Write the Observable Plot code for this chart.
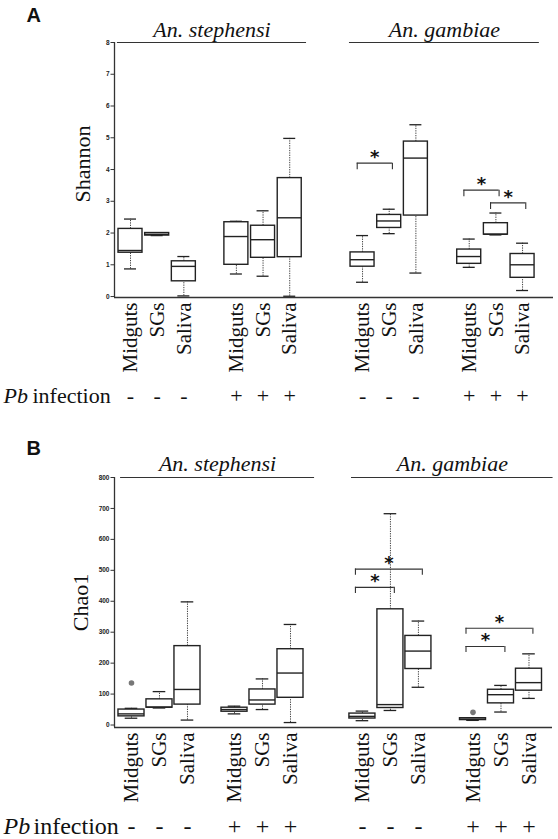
<!DOCTYPE html>
<html><head><meta charset="utf-8">
<script src="https://cdn.jsdelivr.net/npm/d3@7"></script>
<script src="https://cdn.jsdelivr.net/npm/@observablehq/plot@0.6"></script>
<style>
body{margin:0;background:#fff;}
#chart{width:558px;height:839px;position:relative;background:#fff;}
#chart svg{display:block;overflow:visible;}
</style></head><body><div id="chart"></div>
<script>
// ---- categories ----
const species = ["An. stephensi", "An. gambiae"];
const tissues = ["Midguts", "SGs", "Saliva"];
const infectionSigns = ["-", "+"];
const infectionLabel = ["Pb", "infection"];
const panelLetters = ["A", "B"];
const yLabels = ["Shannon", "Chao1"];

// box order: stephensi(-), stephensi(+), gambiae(-), gambiae(+); each Midguts, SGs, Saliva
// ---- Panel A: Shannon ----
const shannonMin = [0.87, 1.92, 0.02, 0.71, 0.64, 0.01, 0.45, 1.98, 0.74, 0.92, 1.94, 0.19];
const shannonQ1  = [1.38, 1.92, 0.48, 1.00, 1.22, 1.24, 0.94, 2.16, 2.55, 1.03, 1.95, 0.59];
const shannonMed = [1.45, 1.96, 0.95, 1.89, 1.79, 2.48, 1.16, 2.38, 4.36, 1.26, 1.96, 1.00];
const shannonQ3  = [2.13, 2.00, 1.11, 2.34, 2.23, 3.73, 1.39, 2.57, 4.88, 1.48, 2.31, 1.34];
const shannonMax = [2.44, 2.00, 1.26, 2.37, 2.70, 4.98, 1.92, 2.75, 5.41, 1.81, 2.63, 1.68];
const shannonTicks = [0, 1, 2, 3, 4, 5, 6, 7, 8];
const shannonSigFrom = [6, 9, 10];
const shannonSigTo   = [7, 10, 11];
const shannonSigY    = [4.2, 3.35, 2.95];
const shannonOutBox = [];
const shannonOutVal = [];

// ---- Panel B: Chao1 ----
const chaoMin = [22, 55, 16, 36, 50, 8, 14, 47, 122, 15, 42, 86];
const chaoQ1  = [28, 56, 66, 43, 66, 88, 21, 55, 181, 16, 70, 111];
const chaoMed = [36, 58, 115, 50, 81, 168, 28, 66, 239, 19, 98, 137];
const chaoQ3  = [50, 83, 255, 56, 115, 245, 37, 374, 288, 22, 114, 182];
const chaoMax = [54, 108, 398, 61, 149, 325, 45, 683, 336, 23, 128, 230];
const chaoTicks = [0, 100, 200, 300, 400, 500, 600, 700, 800];
const chaoSigFrom = [6, 6, 9, 9];
const chaoSigTo   = [8, 7, 11, 10];
const chaoSigY    = [504, 445, 313, 254];
const chaoOutBox = [0, 9];
const chaoOutVal = [136, 41];

const SERIF = "'Liberation Serif', 'Times New Roman', serif";
const SANS = "'Liberation Sans', Arial, sans-serif";
const INK = "#222";

function panel(cfg) {
  const boxes = cfg.min.map((_, i) => {
    const g = Math.floor(i / 3), k = i % 3;
    return {
      x: cfg.groupOffsets[g] + k,
      tissue: tissues[k],
      sign: infectionSigns[g % 2],
      min: cfg.min[i], q1: cfg.q1[i], med: cfg.med[i], q3: cfg.q3[i], max: cfg.max[i]
    };
  });
  const outliers = cfg.outBox.map((b, i) => ({x: boxes[b].x, y: cfg.outVal[i]}));
  const brackets = cfg.sigFrom.map((f, i) => ({
    x1: boxes[f].x + cfg.brPad[0],
    x2: boxes[cfg.sigTo[i]].x + cfg.brPad[1],
    y: cfg.sigY[i]
  }));
  const groupsLines = species.map((s, i) => ({
    name: s,
    x1: cfg.groupOffsets[2 * i] + cfg.linePad[0],
    x2: cfg.groupOffsets[2 * i + 1] + 2 + cfg.linePad[1]
  }));
  const y0 = cfg.yDomain[0], yTop = cfg.yDomain[1];
  const hw = cfg.boxW / 2, cw = cfg.capW / 2;
  const xMin = cfg.xDomain[0], xMax = cfg.xDomain[1];

  return Plot.plot({
    width: 558,
    height: cfg.height,
    marginLeft: 114,
    marginRight: cfg.marginRight,
    marginTop: cfg.marginTop,
    marginBottom: cfg.marginBottom,
    x: {type: "linear", domain: cfg.xDomain, axis: null},
    y: {domain: cfg.yDomain, axis: null},
    style: {fontFamily: SERIF, background: "white", color: INK, overflow: "visible"},
    marks: [
      // y axis
      Plot.axisY(cfg.ticks, {
        tickSize: 3.5, tickPadding: 1.5, fontSize: 6.5, fontFamily: SANS, fontWeight: "bold",
        label: null, stroke: "#333"
      }),
      Plot.ruleX([xMin], {y1: y0, y2: yTop, stroke: "#333", strokeWidth: 1.3}),
      Plot.ruleY([y0], {x1: xMin, x2: xMax, stroke: "#333", strokeWidth: 1.3}),
      // species headers
      Plot.ruleY(groupsLines, {y: yTop, x1: "x1", x2: "x2", stroke: "#333", strokeWidth: 1.1}),
      Plot.text(groupsLines, {
        x: d => (d.x1 + d.x2) / 2, y: yTop, text: "name", fontStyle: "italic", fontFamily: SERIF,
        fontSize: 22, lineAnchor: "bottom", dy: cfg.titleDy, fill: "#111"
      }),
      // whiskers
      Plot.ruleX(boxes, {x: "x", y1: "min", y2: "q1", stroke: "#444", strokeWidth: 1, strokeDasharray: "1.3,1.1"}),
      Plot.ruleX(boxes, {x: "x", y1: "q3", y2: "max", stroke: "#444", strokeWidth: 1, strokeDasharray: "1.3,1.1"}),
      Plot.ruleY(boxes, {y: "min", x1: d => d.x - cw, x2: d => d.x + cw, stroke: INK, strokeWidth: 1.3}),
      Plot.ruleY(boxes, {y: "max", x1: d => d.x - cw, x2: d => d.x + cw, stroke: INK, strokeWidth: 1.3}),
      // boxes
      Plot.rect(boxes, {x1: d => d.x - hw, x2: d => d.x + hw, y1: "q1", y2: "q3", fill: "white", stroke: INK, strokeWidth: 1.4}),
      Plot.ruleY(boxes, {y: "med", x1: d => d.x - hw, x2: d => d.x + hw, stroke: INK, strokeWidth: 1.4}),
      Plot.dot(outliers, {x: "x", y: "y", r: 2.8, fill: "#777", stroke: "none"}),
      // significance brackets
      Plot.ruleY(brackets, {y: "y", x1: "x1", x2: "x2", stroke: "#333", strokeWidth: 1.1}),
      Plot.ruleX(brackets, {x: "x1", y1: "y", y2: d => d.y - cfg.drop, stroke: "#333", strokeWidth: 1.1}),
      Plot.ruleX(brackets, {x: "x2", y1: "y", y2: d => d.y - cfg.drop, stroke: "#333", strokeWidth: 1.1}),
      Plot.text(brackets, {
        x: d => (d.x1 + d.x2) / 2, y: "y", text: () => "*", fontFamily: "'DejaVu Sans', sans-serif",
        fontWeight: "bold", fontSize: 18, lineAnchor: "middle", dy: cfg.starDy, fill: "#111"
      }),
      // category labels
      Plot.text(boxes, {
        x: "x", y: y0, text: "tissue", rotate: -90, textAnchor: "end", lineAnchor: "middle",
        dy: 5, fontSize: 21, fontFamily: SERIF, fill: "#111"
      }),
      Plot.text(boxes, {
        x: "x", y: y0, text: "sign", lineAnchor: "middle", dy: cfg.signDy,
        fontSize: cfg.signSize, fontFamily: SERIF, fill: "#111"
      }),
      Plot.text([infectionLabel[0]], {
        frameAnchor: "bottom-left", textAnchor: "start", lineAnchor: "middle",
        dx: 3 - 114, dy: cfg.signDy, fontStyle: "italic", fontFamily: SERIF,
        fontSize: cfg.signSize, fill: "#111"
      }),
      Plot.text([infectionLabel[1]], {
        frameAnchor: "bottom-left", textAnchor: "start", lineAnchor: "middle",
        dx: cfg.infX - 114, dy: cfg.signDy, fontSize: cfg.signSize, fontFamily: SERIF, fill: "#111"
      }),
      // y label
      Plot.text([cfg.yLabel], {
        frameAnchor: "left", rotate: -90, textAnchor: "middle", lineAnchor: "middle",
        dx: cfg.yLabelX - 114, dy: cfg.yLabelDy, fontSize: 22, fontFamily: SERIF, fill: "#111"
      }),
      // panel letter
      Plot.text([cfg.letter], {
        frameAnchor: "top-left", textAnchor: "start", lineAnchor: "bottom",
        dx: 26 - 114, dy: cfg.letterDy, fontFamily: SANS, fontWeight: "bold", fontSize: 20, fill: "#111"
      })
    ]
  });
}

const chart = document.getElementById("chart");

chart.appendChild(panel({
  letter: panelLetters[0], yLabel: yLabels[0],
  min: shannonMin, q1: shannonQ1, med: shannonMed, q3: shannonQ3, max: shannonMax,
  outBox: shannonOutBox, outVal: shannonOutVal,
  sigFrom: shannonSigFrom, sigTo: shannonSigTo, sigY: shannonSigY,
  ticks: shannonTicks,
  height: 420, marginTop: 42, marginBottom: 123, marginRight: 5,
  yDomain: [-0.03, 8], xDomain: [-0.6, 15.86],
  groupOffsets: [0, 3.97, 8.7, 12.7],
  boxW: 0.9, capW: 0.45, drop: 0.21, brPad: [-0.2, 0.12], linePad: [-0.49, 0.63],
  titleDy: -6, signDy: 98, signSize: 22, infX: 32, starDy: -6,
  yLabelX: 82, yLabelDy: -6, letterDy: -21
}));

chart.appendChild(panel({
  letter: panelLetters[1], yLabel: yLabels[1],
  min: chaoMin, q1: chaoQ1, med: chaoMed, q3: chaoQ3, max: chaoMax,
  outBox: chaoOutBox, outVal: chaoOutVal,
  sigFrom: chaoSigFrom, sigTo: chaoSigTo, sigY: chaoSigY,
  ticks: chaoTicks,
  height: 419, marginTop: 57, marginBottom: 112, marginRight: 6,
  yDomain: [-8, 800], xDomain: [-0.607, 15.04],
  groupOffsets: [0, 3.68, 8.25, 12.2],
  boxW: 0.93, capW: 0.45, drop: 20, brPad: [-0.25, 0.14], linePad: [-0.39, 0.86],
  titleDy: -7, signDy: 98.5, signSize: 24, infX: 33, starDy: -6,
  yLabelX: 80, yLabelDy: 0, letterDy: -23
}));
</script>
</body></html>
